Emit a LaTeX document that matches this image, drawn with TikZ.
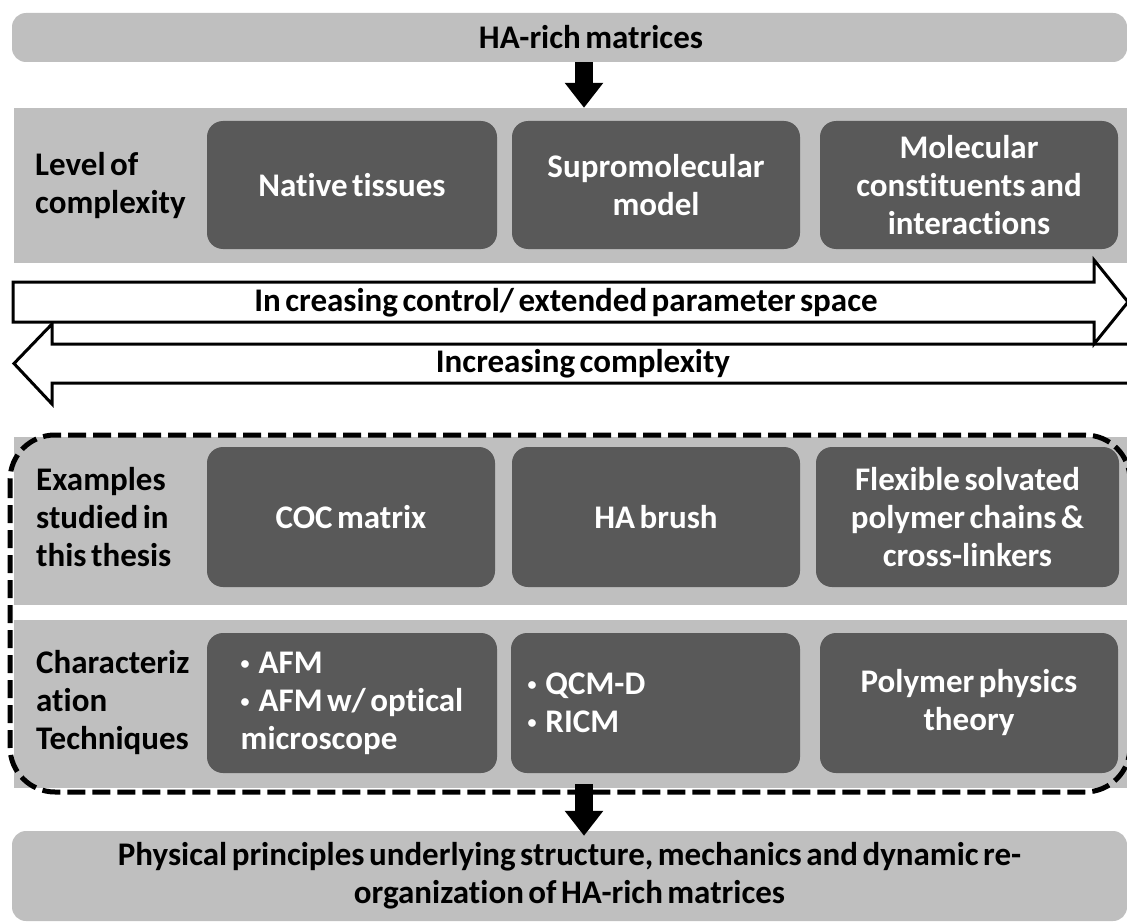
\documentclass[tikz,border=0pt]{standalone}
\usepackage{fontspec}
\setmainfont{Carlito}[Ligatures=NoCommon, WordSpace=0.6]
\usetikzlibrary{arrows.meta}
\definecolor{panelgray}{HTML}{BFBFBF}
\definecolor{boxgray}{HTML}{595959}
\tikzset{
  bar/.style={fill=panelgray, rounded corners=14pt, minimum width=1115pt, inner sep=0pt},
  panel/.style={fill=panelgray, minimum width=1113pt, inner sep=0pt},
  darkbox/.style={fill=boxgray, rounded corners=16pt, text=white, align=center, inner sep=0pt, minimum height=140pt},
  rowlabel/.style={anchor=west, align=left, inner sep=0pt},
  bigarrow/.style={line width=18pt, -{Triangle[width=37pt,length=25pt]}},
  band/.style={draw, line width=3pt, fill=white, line join=miter}
}
\newcommand{\dotItem}{\raisebox{4pt}{\fontsize{18}{18}\selectfont•}\hspace{9pt}}
\begin{document}
\begin{tikzpicture}[x=1pt,y=-1pt,font=\fontsize{33}{38}\selectfont\bfseries]
  \newcommand{\darkCell}[5][]{
    \node[darkbox, minimum width=#4, #1] (#2) at (#3) {#5};
  }
  \useasboundingbox (0,0) rectangle (1127,923);

  \node[bar, minimum height=49pt] (hatop) at (569.5,37.5) {};
  \node (hatext) at (591,37.5) {HA-rich matrices};

  \node[panel, minimum height=155pt] (lvlpanel) at (570.5,185.5) {};
  \node[rowlabel] (lvllabel) at (35,185.5) {Level of\\complexity};
  \darkCell[minimum height=128pt]{native}{352,185}{290pt}{Native tissues}
  \darkCell[minimum height=128pt]{supra}{656,185}{288pt}{Supromolecular\\model}
  \darkCell[minimum height=128pt]{molec}{969,185}{298pt}{Molecular\\constituents and\\interactions}

  \draw[band] (1135,344) -- (52,344) -- (52,324) -- (14,363.5) -- (52,404) -- (52,383) -- (1135,383) -- cycle;
  \draw[band] (13,282) -- (1094,282) -- (1094,260) -- (1128,302) -- (1094,344) -- (1094,322) -- (13,322) -- cycle;
  \node (ctrltext) at (566,303) {In creasing control/ extended parameter space};
  \node (cplxtext) at (583,364) {Increasing complexity};

  \node[panel, minimum height=168pt] (expanel) at (570.5,521) {};
  \node[rowlabel] (exlabel) at (36,517) {Examples\\studied in\\this thesis};
  \darkCell{coc}{351,517}{288pt}{COC matrix}
  \darkCell{brush}{656,517}{288pt}{HA brush}
  \darkCell{chains}{967.5,517}{303pt}{Flexible solvated\\polymer chains \&\\cross-linkers}

  \node[panel, minimum height=168pt] (charpanel) at (570.5,704) {};
  \node[rowlabel] (charlabel) at (36,703) {Characteriz\\ation\\Techniques};
  \darkCell[align=left]{afm}{352,703}{290pt}{\dotItem AFM\\\dotItem AFM w/ optical\\microscope}
  \darkCell[align=left, text width=256pt]{qcm}{655.5,703}{289pt}{\dotItem QCM-D\\\dotItem RICM}
  \darkCell{theory}{969,703}{298pt}{Polymer physics\\theory}

  \draw[line width=5pt, dash pattern=on 18pt off 7pt, rounded corners=45pt] (10,435) rectangle (1130,792);

  \node[bar, minimum height=90pt, align=center] (principles) at (569.5,876) {Physical principles underlying structure, mechanics and dynamic re-\\organization of HA-rich matrices};

  \draw[bigarrow] ([xshift=14.5pt]hatop.south) -- ([xshift=13.5pt]lvlpanel.north);
  \draw[bigarrow, shorten <=-4pt, shorten >=-5pt] ([xshift=13.5pt]charpanel.south) -- ([xshift=14.5pt]principles.north);
\end{tikzpicture}
\end{document}
